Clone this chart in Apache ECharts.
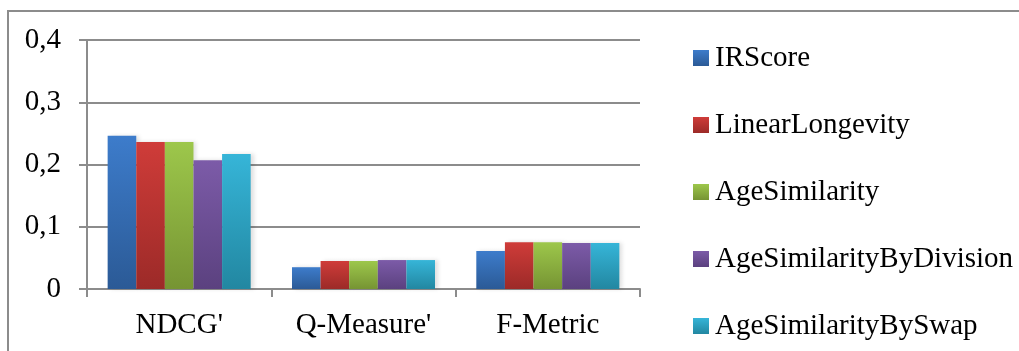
<!DOCTYPE html>
<html><head><meta charset="utf-8">
<script src="https://cdn.jsdelivr.net/npm/echarts@6/dist/echarts.min.js"></script>
<style>html,body{margin:0;padding:0;background:#fff}#c{width:1019px;height:351px;position:relative}</style>
</head><body><div id="c"></div>
<script>
const categories = ["NDCG'", "Q-Measure'", "F-Metric"];
const seriesNames = ["IRScore", "LinearLongevity", "AgeSimilarity", "AgeSimilarityByDivision", "AgeSimilarityBySwap"];
const IRScore = [0.246, 0.035, 0.061];
const LinearLongevity = [0.236, 0.045, 0.075];
const AgeSimilarity = [0.236, 0.045, 0.075];
const AgeSimilarityByDivision = [0.207, 0.0465, 0.074];
const AgeSimilarityBySwap = [0.217, 0.0465, 0.074];
const yTicks = [0, 0.1, 0.2, 0.3, 0.4];

const values = [IRScore, LinearLongevity, AgeSimilarity, AgeSimilarityByDivision, AgeSimilarityBySwap];
const grads = [["#3d7ccb", "#2b5a96"], ["#cf3c39", "#9c2a28"], ["#9dc74b", "#769433"], ["#7c5ba8", "#5b417f"], ["#36b5d8", "#2287a1"]];
const font = "'Liberation Serif', 'Times New Roman', serif";

const chart = echarts.init(document.getElementById('c'), null, {renderer: 'canvas'});
chart.setOption({
  animation: false,
  backgroundColor: '#fff',
  graphic: [{type: 'rect', shape: {x: 8, y: 11, width: 1030, height: 360}, style: {fill: 'none', stroke: '#8c8c8c', lineWidth: 2}, z: -1}],
  grid: {left: 87, top: 40, width: 553, height: 249, containLabel: false},
  legend: {
    orient: 'vertical', left: 693, top: 43, padding: 0, itemWidth: 16, itemHeight: 16, itemGap: 37,
    icon: 'rect',
    textStyle: {fontFamily: font, fontSize: 29, color: '#000', lineHeight: 30, padding: [0, 0, 0, 1]},
    data: seriesNames
  },
  xAxis: {
    type: 'category', data: categories,
    axisLine: {lineStyle: {color: '#8c8c8c', width: 2}},
    axisTick: {show: true, length: 8, lineStyle: {color: '#8c8c8c', width: 2}},
    axisLabel: {fontFamily: font, fontSize: 29, color: '#000', margin: 22}
  },
  yAxis: {
    type: 'value', min: 0, max: 0.4, interval: 0.1,
    axisLine: {show: true, lineStyle: {color: '#8c8c8c', width: 2}},
    axisTick: {show: true, length: 8, lineStyle: {color: '#8c8c8c', width: 2}},
    splitLine: {lineStyle: {color: '#8c8c8c', width: 2}},
    axisLabel: {fontFamily: font, fontSize: 29, color: '#000', margin: 26,
      formatter: v => { const t = yTicks.find(x => Math.abs(x - v) < 1e-9); return t === 0 ? '0' : String(+t.toFixed(1)).replace('.', ','); }}
  },
  series: seriesNames.map((n, i) => ({
    name: n, type: 'bar', data: values[i], barGap: '0%', barCategoryGap: '22.4%',
    itemStyle: {
      color: new echarts.graphic.LinearGradient(0, 0, 0, 1, [{offset: 0, color: grads[i][0]}, {offset: 1, color: grads[i][1]}]),
      shadowColor: 'rgba(0,0,0,0.12)', shadowBlur: 4, shadowOffsetX: 3, shadowOffsetY: 0
    }
  }))
});
</script></body></html>
